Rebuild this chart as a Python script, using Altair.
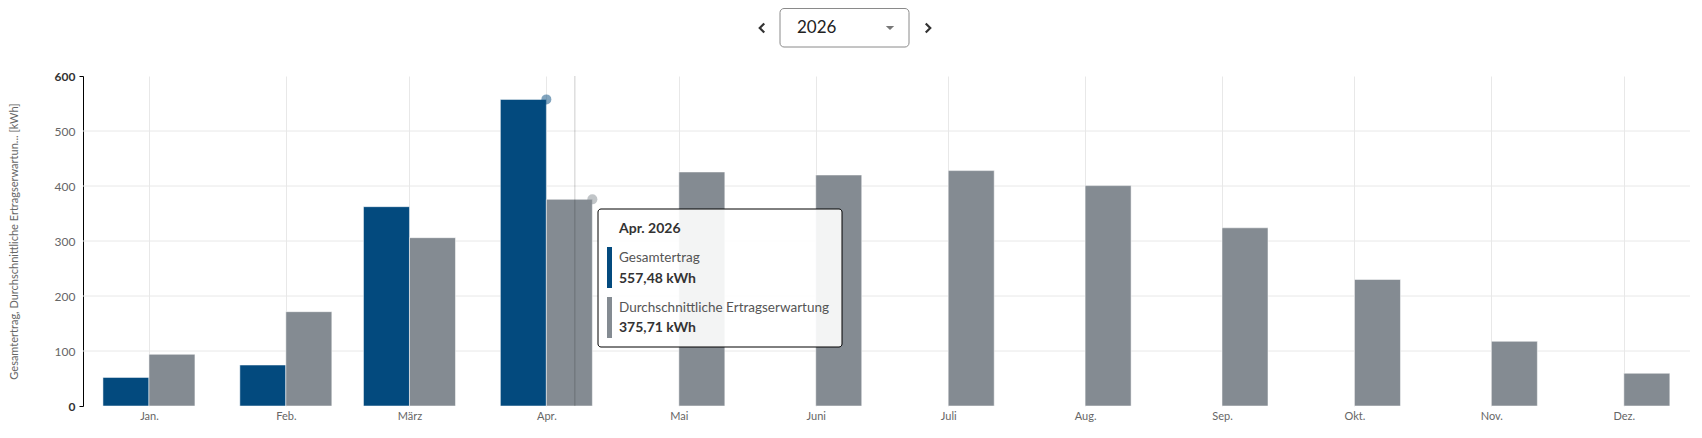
import json
import altair as alt
import pandas as pd

# ---------------- data ----------------
year = "2026"
months = ["2026-01-01", "2026-02-01", "2026-03-01", "2026-04-01", "2026-05-01", "2026-06-01",
          "2026-07-01", "2026-08-01", "2026-09-01", "2026-10-01", "2026-11-01", "2026-12-01"]
month_labels = ["Jan.", "Feb.", "März", "Apr.", "Mai", "Juni", "Juli", "Aug.", "Sep.", "Okt.", "Nov.", "Dez."]
series_names = ["Gesamtertrag", "Durchschnittliche Ertragserwartung"]
gesamtertrag = [52, 74.5, 362.4, 557.48]  # Jan - Apr
erwartung = [94, 171.5, 306, 375.71, 425.5, 420, 428, 400.7, 324, 230, 117.6, 59.5]
y_ticks = [0, 100, 200, 300, 400, 500, 600]
hover_index = 3  # Apr.

# ---------------- style ----------------
BLUE = "#034A7E"
GRAY = "#848B92"
FONT = "Lato"
W, H = 1607, 330
DAY = 86400000

df_g = pd.DataFrame({"date": months[:len(gesamtertrag)], "value": gesamtertrag, "serie": series_names[0]})
df_e = pd.DataFrame({"date": months, "value": erwartung, "serie": series_names[1]})
df_grid = pd.DataFrame({"value": y_ticks[1:-1]})

tick_ms = [int(pd.Timestamp(m, tz="UTC").value // 10**6) for m in months]
x_domain = [tick_ms[0] - 13.8 * DAY, tick_ms[-1] + 13.85 * DAY]
label_expr = json.dumps(month_labels, ensure_ascii=False) + "[utcmonth(datum.value)]"

x_scale = alt.Scale(type="utc", domain=x_domain)
y_scale = alt.Scale(domain=[0, 600], nice=False)

END = "datum.value == 0 || datum.value == 600"
x_axis = alt.Axis(values=tick_ms, labelExpr=label_expr, title=None, grid=True, gridColor="#e8e8e8",
                  domain=False, ticks=False, labelPadding=4, labelFontSize=11, labelColor="#666",
                  labelFont=FONT)
y_axis = alt.Axis(values=y_ticks, title="Gesamtertrag, Durchschnittliche Ertragserwartun... [kWh]",
                  grid=False,
                  domain=True, domainColor="#000", domainWidth=1,
                  tickSize=4, tickColor={"condition": {"test": END, "value": "#000"}, "value": "transparent"},
                  labelPadding=4, labelFontSize=12, labelFont=FONT,
                  labelColor={"condition": {"test": END, "value": "#333"}, "value": "#666"},
                  labelFontWeight={"condition": {"test": END, "value": "bold"}, "value": "normal"},
                  titleFont=FONT, titleFontSize=11, titleFontWeight="normal", titleColor="#666",
                  titleX=-69, titleY=H / 2, titleAngle=270, titleAlign="center", titleBaseline="middle")


def X():
    return alt.X("date:T", scale=x_scale, axis=x_axis)


def Y():
    return alt.Y("value:Q", scale=y_scale, axis=y_axis)


hgrid = alt.Chart(df_grid).mark_rule(color="#e8e8e8", strokeWidth=1).encode(
    y=Y(), x=alt.value(0), x2=alt.value(W))

bars_g = alt.Chart(df_g).mark_bar(width=46, xOffset=-23, color=BLUE, stroke="white",
                                  strokeWidth=1, strokeOpacity=0.5).encode(x=X(), y=Y())
bars_e = alt.Chart(df_e).mark_bar(width=46, xOffset=23, color=GRAY, stroke="white",
                                  strokeWidth=1, strokeOpacity=0.5).encode(x=X(), y=Y())

# hover state (crosshair + markers)
df_hover = pd.DataFrame({"date": [months[hover_index]]})
crosshair = alt.Chart(df_hover).mark_rule(color="black", opacity=0.2, strokeWidth=1, xOffset=28.5).encode(
    x=X(), y=alt.value(0), y2=alt.value(H))
dot_g = alt.Chart(df_g.iloc[[hover_index]]).mark_circle(size=100, color=BLUE, opacity=0.5, xOffset=0).encode(
    x=X(), y=Y())
dot_e = alt.Chart(df_e.iloc[[hover_index]]).mark_circle(size=100, color=GRAY, opacity=0.5, xOffset=46).encode(
    x=X(), y=Y())


def fmt(v):
    return f"{v:.2f}".replace(".", ",") + " kWh"


one = pd.DataFrame({"k": [0]})
tt_x0, tt_y0 = 515, 133
tt_box = alt.Chart(one).mark_rect(fill="white", fillOpacity=0.9, stroke="black", strokeWidth=1,
                                  cornerRadius=3).encode(
    x=alt.value(tt_x0), x2=alt.value(tt_x0 + 244), y=alt.value(tt_y0), y2=alt.value(tt_y0 + 138))
tt_mark_g = alt.Chart(one).mark_rect(fill=BLUE).encode(
    x=alt.value(tt_x0 + 9), x2=alt.value(tt_x0 + 14), y=alt.value(tt_y0 + 38), y2=alt.value(tt_y0 + 79))
tt_mark_e = alt.Chart(one).mark_rect(fill=GRAY).encode(
    x=alt.value(tt_x0 + 9), x2=alt.value(tt_x0 + 14), y=alt.value(tt_y0 + 88), y2=alt.value(tt_y0 + 129))


def tt_text(txt, dy, bold, size, color):
    return alt.Chart(pd.DataFrame({"t": [txt]})).mark_text(
        align="left", baseline="middle", font=FONT, fontSize=size,
        fontWeight="bold" if bold else "normal", color=color).encode(
        x=alt.value(tt_x0 + 21), y=alt.value(tt_y0 + dy), text="t:N")


tt_texts = [
    tt_text(f"{month_labels[hover_index]} {year}", 20, True, 14, "#333"),
    tt_text(series_names[0], 49, False, 13.5, "#555"),
    tt_text(fmt(gesamtertrag[hover_index]), 70, True, 14, "#333"),
    tt_text(series_names[1], 99, False, 13.5, "#555"),
    tt_text(fmt(erwartung[hover_index]), 119, True, 14, "#333"),
]

# header: year selector
hdr_y = -48
sel_box = alt.Chart(one).mark_rect(fill="white", stroke="#8a8a8a", strokeWidth=1, cornerRadius=4).encode(
    x=alt.value(697), x2=alt.value(826), y=alt.value(-67.5), y2=alt.value(-29))
sel_text = alt.Chart(pd.DataFrame({"t": [year]})).mark_text(
    align="left", baseline="middle", font=FONT, fontSize=17, color="#222").encode(
    x=alt.value(714), y=alt.value(hdr_y), text="t:N")
sel_tri = alt.Chart(one).mark_point(shape="M -1 -0.5 L 1 -0.5 L 0 0.5 Z", filled=True, size=70,
                                    color="#777", opacity=1).encode(
    x=alt.value(807), y=alt.value(hdr_y))
chev_l = alt.Chart(one).mark_point(shape="M 0.5 -1 L -0.5 0 L 0.5 1", filled=False, size=81,
                                   color="#333", strokeWidth=2.2, opacity=1).encode(
    x=alt.value(679), y=alt.value(hdr_y))
chev_r = alt.Chart(one).mark_point(shape="M -0.5 -1 L 0.5 0 L -0.5 1", filled=False, size=81,
                                   color="#333", strokeWidth=2.2, opacity=1).encode(
    x=alt.value(845), y=alt.value(hdr_y))

chart = alt.layer(
    hgrid, bars_g, bars_e, crosshair, dot_g, dot_e,
    tt_box, tt_mark_g, tt_mark_e, *tt_texts,
    sel_box, sel_text, sel_tri, chev_l, chev_r,
).properties(
    width=W, height=H,
    autosize=alt.AutoSizeParams(type="none"),
    padding={"left": 75, "top": 68, "right": 4, "bottom": 24},
    view=alt.ViewBackground(stroke="transparent", strokeWidth=0, strokeOpacity=0),
).configure_view(stroke="transparent", strokeWidth=0, strokeOpacity=0).configure(font=FONT)

chart.save("out.html", embed_options={"renderer": "svg", "actions": False})
